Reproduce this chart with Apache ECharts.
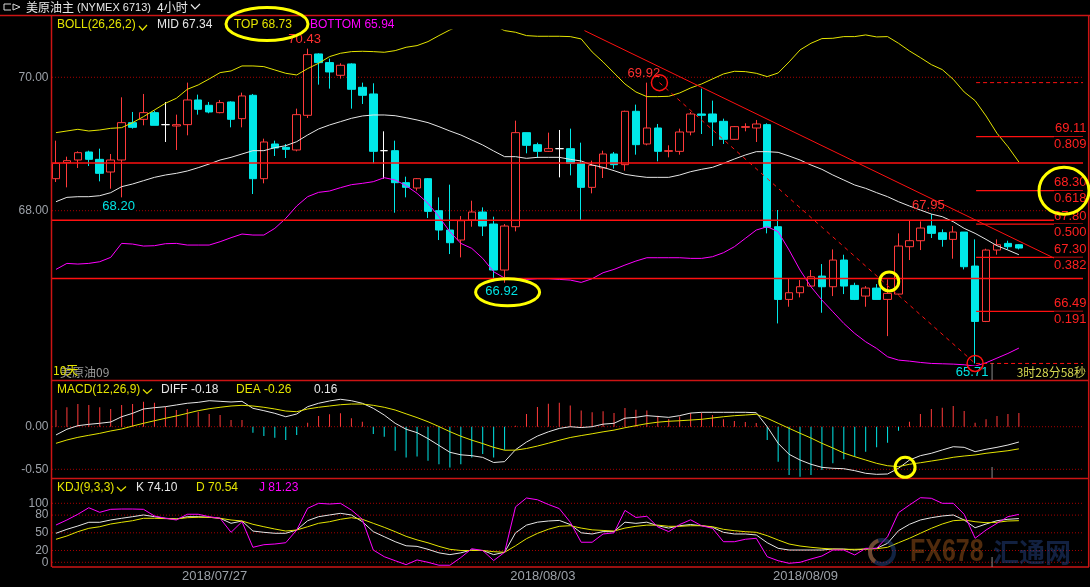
<!DOCTYPE html>
<html><head><meta charset="utf-8">
<script src="https://cdn.jsdelivr.net/npm/echarts@6/dist/echarts.min.js"></script>
<style>html,body{margin:0;padding:0;background:#000;}#c{width:1090px;height:587px;}</style>
</head><body><div id="c"></div>
<script>
// ---------------- DATA ----------------
const slotCount = 95; // 89 bars + empty room on the right
const categories = Array.from({length: slotCount}, (_, i) => 'bar' + i);
// [open, close, low, high]
const ohlc = [
[68.48,68.71,68.43,69.05],[68.72,68.75,68.35,68.81],[68.76,68.87,68.64,68.89],[68.88,68.77,68.67,68.90],
[68.77,68.56,68.44,68.93],[68.58,68.76,68.33,68.85],[68.76,69.32,68.20,69.70],[69.32,69.25,69.23,69.48],
[69.37,69.47,69.28,69.75],[69.47,69.28,69.28,69.50],[69.29,69.29,69.03,69.63],[69.27,69.29,68.91,69.44],
[69.29,69.66,69.13,69.92],[69.66,69.52,69.44,69.74],[69.58,69.48,69.46,69.63],[69.47,69.62,69.46,69.66],
[69.63,69.37,69.25,69.64],[69.38,69.72,69.25,69.77],[69.73,68.48,68.25,69.75],[68.48,69.03,68.41,69.08],
[69.00,68.94,68.82,69.05],[68.95,68.92,68.79,69.00],[68.91,69.44,68.89,69.53],[69.43,70.34,69.39,70.43],
[70.35,70.22,69.89,70.36],[70.22,70.08,69.83,70.28],[70.03,70.18,69.98,70.21],[70.20,69.82,69.53,70.21],
[69.85,69.73,69.60,69.92],[69.75,68.89,68.71,69.91],[68.90,68.90,68.48,69.19],[68.90,68.42,67.97,69.05],
[68.42,68.35,68.20,68.51],[68.34,68.48,68.30,68.49],[68.48,67.99,67.89,68.49],[68.00,67.71,67.56,68.20],
[67.71,67.52,67.35,68.39],[67.56,67.85,67.30,67.92],[67.86,67.98,67.76,68.15],[67.98,67.77,67.62,68.05],
[67.80,67.11,66.97,67.91],[67.11,67.77,66.92,67.80],[67.76,69.17,67.69,69.35],[69.17,68.98,68.86,69.17],
[68.99,68.89,68.79,69.02],[68.89,68.93,68.88,69.17],[68.93,68.93,68.50,69.21],[68.93,68.71,68.53,69.23],
[68.71,68.35,67.86,69.02],[68.35,68.68,68.26,68.75],[68.64,68.85,68.49,68.90],[68.85,68.69,68.63,68.88],
[68.69,69.49,68.60,69.50],[69.49,68.99,68.84,69.59],[69.00,69.24,68.98,69.92],[69.24,68.89,68.74,69.30],
[68.89,68.90,68.80,68.98],[68.89,69.18,68.84,69.23],[69.18,69.45,69.13,69.48],[69.45,69.43,69.15,69.83],
[69.45,69.33,68.97,69.65],[69.34,69.07,69.00,69.38],[69.07,69.26,69.06,69.27],[69.25,69.26,69.19,69.31],
[69.24,69.30,69.03,69.36],[69.29,67.75,67.66,69.31],[67.76,66.67,66.31,68.01],[66.67,66.77,66.56,66.99],
[66.77,66.86,66.70,66.96],[66.87,67.01,66.86,67.11],[67.02,66.86,66.47,67.20],[66.86,67.26,66.72,67.42],
[67.26,66.87,66.75,67.34],[66.88,66.67,66.66,66.92],[66.72,66.84,66.56,66.87],[66.84,66.67,66.67,66.90],
[66.67,66.76,66.12,66.97],[66.75,67.47,66.74,67.66],[67.46,67.55,67.26,67.86],[67.55,67.74,67.41,67.84],
[67.77,67.66,67.59,67.95],[67.67,67.57,67.46,67.72],[67.57,67.68,67.28,67.77],[67.68,67.16,67.12,67.68],
[67.17,66.34,65.71,67.57],[66.34,67.41,66.33,67.43],[67.41,67.49,67.34,67.57],[67.51,67.46,67.42,67.55],
[67.49,67.44,67.42,67.50]
];
const bollTop = [69.17,69.195,69.22,69.195,69.21,69.235,69.245,69.32,69.41,69.51,69.61,69.685,69.82,69.885,69.975,70.07,
70.095,70.17,70.17,70.16,70.11,70.06,70.035,70.13,70.21,70.31,70.36,70.385,70.39,70.385,70.375,70.40,
70.45,70.475,70.535,70.625,70.71,70.78,70.80,70.80,70.78,70.70,70.675,70.625,70.615,70.615,70.615,70.61,
70.575,70.38,70.23,70.065,69.90,69.78,69.71,69.71,69.715,69.765,69.84,69.90,69.975,70.05,70.09,70.085,
70.06,70.01,70.065,70.23,70.41,70.51,70.58,70.585,70.61,70.61,70.635,70.605,70.61,70.51,70.395,70.295,
70.19,70.115,69.97,69.78,69.65,69.42,69.16,68.96,68.73];
const bollMid = [68.135,68.20,68.21,68.21,68.225,68.27,68.36,68.40,68.45,68.50,68.535,68.56,68.595,68.645,68.70,68.76,
68.80,68.85,68.90,68.90,68.945,68.975,69.035,69.135,69.225,69.285,69.335,69.385,69.42,69.435,69.435,69.424,
69.394,69.36,69.32,69.26,69.195,69.135,69.06,68.985,68.895,68.81,68.81,68.785,68.80,68.80,68.80,68.77,
68.745,68.685,68.65,68.60,68.545,68.52,68.50,68.50,68.50,68.535,68.585,68.62,68.65,68.71,68.775,68.835,
68.885,68.885,68.875,68.82,68.76,68.685,68.62,68.535,68.46,68.385,68.335,68.27,68.21,68.135,68.07,68.01,
67.95,67.91,67.835,67.735,67.66,67.57,67.475,67.41,67.34];
const bollBottom = [67.12,67.21,67.20,67.21,67.235,67.30,67.51,67.50,67.47,67.475,67.505,67.51,67.485,67.485,67.485,67.535,
67.595,67.65,67.635,67.635,67.735,67.885,68.07,68.21,68.275,68.295,68.345,68.39,68.41,68.435,68.495,68.46,
68.375,68.26,68.11,67.91,67.685,67.51,67.435,67.285,67.085,66.99,66.98,66.97,66.98,66.98,66.97,66.96,
66.925,66.98,67.07,67.12,67.185,67.245,67.295,67.295,67.295,67.295,67.285,67.285,67.31,67.37,67.46,67.585,
67.71,67.76,67.685,67.41,67.11,66.86,66.66,66.485,66.31,66.16,66.035,65.935,65.81,65.76,65.745,65.725,
65.71,65.705,65.70,65.69,65.67,65.72,65.79,65.86,65.94];
const macdDiff = [-0.097,-0.03,0.012,0.028,0.04,0.055,0.117,0.157,0.208,0.223,0.235,0.255,0.275,0.286,0.305,0.298,
0.29,0.298,0.216,0.188,0.157,0.117,0.149,0.235,0.275,0.302,0.322,0.305,0.275,0.216,0.137,0.04,
-0.03,-0.07,-0.14,-0.22,-0.30,-0.33,-0.34,-0.36,-0.42,-0.41,-0.27,-0.18,-0.11,-0.06,-0.02,0.00,
-0.01,0.00,0.03,0.04,0.10,0.11,0.13,0.12,0.11,0.13,0.16,0.169,0.169,0.169,0.169,0.169,
0.164,0.0,-0.195,-0.324,-0.391,-0.441,-0.477,-0.488,-0.493,-0.516,-0.547,-0.559,-0.555,-0.488,-0.391,-0.340,
-0.312,-0.273,-0.235,-0.242,-0.293,-0.265,-0.242,-0.215,-0.18];
const macdDea = [-0.195,-0.156,-0.125,-0.101,-0.078,-0.05,-0.027,0.008,0.04,0.07,0.099,0.126,0.157,0.188,0.211,0.228,
0.243,0.251,0.243,0.228,0.208,0.184,0.176,0.208,0.228,0.243,0.258,0.266,0.266,0.251,0.228,0.196,
0.151,0.107,0.058,0.002,-0.058,-0.112,-0.158,-0.198,-0.242,-0.276,-0.275,-0.256,-0.227,-0.194,-0.159,-0.127,
-0.104,-0.083,-0.06,-0.04,-0.012,0.012,0.036,0.053,0.064,0.07,0.078,0.087,0.102,0.117,0.129,0.137,
0.146,0.099,0.04,-0.019,-0.077,-0.133,-0.195,-0.25,-0.309,-0.352,-0.391,-0.430,-0.458,-0.469,-0.441,-0.423,
-0.403,-0.383,-0.359,-0.344,-0.332,-0.312,-0.297,-0.282,-0.26];
const macdHist = [0.196,0.228,0.266,0.255,0.228,0.208,0.255,0.266,0.293,0.282,0.235,0.196,0.208,0.176,0.149,0.137,
0.079,0.079,-0.070,-0.109,-0.129,-0.156,-0.097,0.047,0.126,0.146,0.157,0.099,0.059,-0.086,-0.117,-0.282,
-0.36,-0.35,-0.40,-0.44,-0.48,-0.44,-0.36,-0.32,-0.36,-0.27,0.01,0.15,0.23,0.27,0.28,0.25,
0.19,0.17,0.18,0.16,0.22,0.20,0.19,0.13,0.09,0.12,0.16,0.164,0.137,0.087,0.067,0.055,
0.043,-0.156,-0.411,-0.567,-0.587,-0.567,-0.508,-0.43,-0.383,-0.352,-0.293,-0.242,-0.188,-0.047,0.059,0.149,
0.208,0.223,0.243,0.184,0.047,0.087,0.126,0.149,0.16];
const kdjK = [49.2,55.9,61.5,67.8,67.8,71.7,74.6,77.3,80.2,77.3,74.6,73.4,77.3,77.3,76.3,74.6,
66.1,70,53,50.8,49.2,49.2,54.7,70.5,77.3,80.2,83,80.2,68.8,51.9,43.4,34.9,
28,27,22,16,13,16,21,20,13,17,50,63,68,70,71,64,
50,48,52,52,68,66,68,62,58,62,64,62,59.3,50.8,48,48,
46.3,33.2,23.7,20.8,20.8,20.8,20.8,22.5,22.5,20.8,22.5,23.7,32.2,53.6,64.4,71.7,
75.6,78.5,80.2,71.7,58.6,64.9,70.5,72.9,74.10];
const kdjD = [39,44.6,51.9,57.6,60.3,64.9,67.8,70.5,74.6,74.6,74,73.4,75.6,76.3,76.3,74.6,
71.7,70,64.4,60.3,56.4,53,54.7,60.3,66.1,68.8,72.9,75.6,72.9,66.1,59.3,51.9,
44,38,33,27,22,20,20,20,18,17,28,40,49,56,61,62,
58,55,54,53,58,61,63,63,61,61,62,62,60.3,55.9,53.6,51.9,
50.8,45.1,37.8,31,27.6,25.4,23.7,22.5,22,22,22.5,23,25.4,33.2,40.7,49.2,
57.6,64.9,70.5,71.7,68.8,67.1,67.8,70,70.54];
const kdjJ = [63.2,71.7,81.4,92.5,84.7,89.8,90.3,90.3,89.8,78.5,74.6,71.7,81.4,81.4,77.3,74.6,
50.8,68.8,25.4,29.8,31,33.2,54.7,91.5,100,98.8,100,88.6,72.9,20.8,9.5,2.7,
-4,4,0,-5,-5,8,23,20,3,17,94,109,106,98,91,68,
34,34,48,50,88,76,78,60,52,64,72,62,57.6,34.9,34.9,39,
40.7,9.5,2.7,-1.7,0,5.6,10.7,20.8,20.8,12.4,23.7,23.7,43.4,84.1,97.1,109.5,
108.5,100,100,81.4,40.7,54.7,66.1,77.3,81.23];
const priceTicks = [70, 68];
const macdTicks = [0, -0.5];
const kdjTicks = [100, 80, 50, 20, 0];
const dateLabels = [{at: 14.5, text: '2018/07/27'}, {at: 44.5, text: '2018/08/03'}, {at: 68.5, text: '2018/08/09'}];
const userHLines = [68.715, 67.855, 66.985];
const trendLine = [[48.3, 70.70], [93.85, 67.08]];
const fibHigh = {at: 55.15, price: 69.92};
const fibLow = {at: 84.0, price: 65.71};
const fibPrices = [69.11, 68.30, 67.80, 67.30, 66.49];
const fibRatios = ['0.809', '0.618', '0.500', '0.382', '0.191'];
const highMarks = [{at: 23, price: 70.43}, {at: 54, price: 69.92}, {at: 80, price: 67.95}];
const lowMarks = [{at: 6, price: 68.20}, {at: 41, price: 66.92}, {at: 84, price: 65.71}];

// ---------------- STYLE / LAYOUT ----------------
const RED = '#ff3a3a', CYAN = '#00e8e8', YEL = '#e4e400', MAG = '#ff00ff', WHT = '#e6e6e6';
const LINE_RED = '#ff1010', DOT_RED = '#a80000', BORDER = '#cc1414', AXIS_TXT = '#9ca1a8';
const F12 = '12px "Liberation Sans", Arial, sans-serif';
const F13 = '13px "Liberation Sans", Arial, sans-serif';
const FCJK = '12px "Noto Sans CJK SC", sans-serif';
const XL = -0.364, XR = 93.86, FIBX0 = 84.09;
const grids = [
  {left: 50.5, width: 1045, top: 30, height: 350.5},
  {left: 50.5, width: 1045, top: 380.5, height: 97.8},
  {left: 50.5, width: 1045, top: 478.3, height: 88.7}
];
const yRanges = [[65.4543, 70.709], [-0.6056, 0.5423], [-7.97, 142.37]];

function seg(g, pts, color, width, type, z) {
  return {type: 'line', xAxisIndex: 3 + g, yAxisIndex: g, data: pts, symbol: 'none', silent: true,
    animation: false, z: z || 3, lineStyle: {color: color, width: width, type: type || 'solid'}};
}
function ln(g, data, color, z) {
  return {type: 'line', xAxisIndex: g, yAxisIndex: g, data: data, symbol: 'none', showSymbol: false,
    silent: true, animation: false, z: z || 4, lineStyle: {color: color, width: 1}};
}

const series = [];
priceTicks.forEach(t => series.push(seg(0, [[XL, t], [XR, t]], DOT_RED, 1, [1, 2], 1)));
macdTicks.forEach(t => series.push(seg(1, [[XL, t], [XR, t]], DOT_RED, 1, [1, 2], 1)));
kdjTicks.forEach(t => series.push(seg(2, [[XL, t], [XR, t]], DOT_RED, 1, [1, 2], 1)));

series.push({
  type: 'candlestick', xAxisIndex: 0, yAxisIndex: 0, data: ohlc, barWidth: 8, animation: false, silent: true, z: 2,
  itemStyle: {color: '#000', color0: CYAN, borderColor: RED, borderColor0: CYAN, borderColorDoji: '#ffffff', borderWidth: 1}
});
series.push(ln(0, bollTop, YEL));
series.push(ln(0, bollMid, WHT));
series.push(ln(0, bollBottom, MAG));

series.push({type: 'bar', xAxisIndex: 1, yAxisIndex: 1, data: macdHist, barWidth: 1, animation: false, silent: true, z: 2,
  itemStyle: {color: p => p.value >= 0 ? RED : CYAN}});
series.push(ln(1, macdDiff, WHT));
series.push(ln(1, macdDea, YEL));
series.push(ln(2, kdjK, WHT));
series.push(ln(2, kdjD, YEL));
series.push(ln(2, kdjJ, MAG));

userHLines.forEach(v => series.push(seg(0, [[XL, v], [XR, v]], LINE_RED, 1.5, 'solid', 5)));
series.push(seg(0, trendLine, LINE_RED, 1, 'solid', 5));
series.push(seg(0, [[fibHigh.at, fibHigh.price], [fibLow.at, fibLow.price]], LINE_RED, 1, [4, 4], 5));
series.push(seg(0, [[FIBX0, fibHigh.price], [XR, fibHigh.price]], LINE_RED, 1, [4, 3], 5));
series.push(seg(0, [[FIBX0, fibLow.price], [XR, fibLow.price]], LINE_RED, 1, [4, 3], 5));
fibPrices.forEach(v => series.push(seg(0, [[FIBX0, v], [XR, v]], LINE_RED, 1.2, 'solid', 5)));
const lastClose = ohlc[ohlc.length - 1][1];
series.push(seg(0, [[92.0, lastClose], [XR, lastClose]], YEL, 1, 'solid', 6));

const option = {
  backgroundColor: '#000',
  animation: false,
  grid: grids,
  xAxis: [0, 1, 2].map(g => ({type: 'category', gridIndex: g, data: categories, boundaryGap: true, show: false}))
    .concat([0, 1, 2].map(g => ({type: 'value', gridIndex: g, min: -0.5, max: slotCount - 0.5, show: false}))),
  yAxis: yRanges.map((r, g) => ({type: 'value', gridIndex: g, min: r[0], max: r[1], show: false})),
  series: series
};

const chart = echarts.init(document.getElementById('c'));
chart.setOption(option);

function P(g, x, y) { return chart.convertToPixel({xAxisIndex: 3 + g, yAxisIndex: g}, [x, y]); }
function txt(x, y, s, color, font, align, extra) {
  return {type: 'text', x: x, y: y, z: 100, silent: true,
    style: Object.assign({text: s, fill: color, font: font || F12, align: align || 'left', textAlign: align || 'left',
      verticalAlign: 'middle', textVerticalAlign: 'middle'}, extra || {})};
}
function line(x1, y1, x2, y2, color, w, z) {
  return {type: 'line', z: z || 90, silent: true, shape: {x1: x1, y1: y1, x2: x2, y2: y2}, style: {stroke: color, lineWidth: w || 1}};
}
function poly(pts, color, w) {
  return {type: 'polyline', z: 100, silent: true, shape: {points: pts}, style: {stroke: color, fill: 'none', lineWidth: w || 1}};
}
function ell(cx, cy, rx, ry, color, w) {
  return {type: 'ellipse', z: 101, silent: true, shape: {cx: cx, cy: cy, rx: rx, ry: ry}, style: {stroke: color, fill: 'none', lineWidth: w || 3}};
}
const f2 = v => v.toFixed(2);
const g = [];
// borders
g.push(line(0, 15.5, 1090, 15.5, BORDER, 1.5));
g.push(line(52, 380.5, 1089, 380.5, BORDER, 1.5));
g.push(line(52, 478.5, 1089, 478.5, BORDER, 1.5));
g.push(line(52, 567, 1089, 567, BORDER, 1.5));
g.push(line(51.5, 15.5, 51.5, 567, BORDER, 1.5));
g.push(line(1088.7, 15.5, 1088.7, 567, BORDER, 1.5));
// title bar
g.push(poly([[11, 4], [4, 4], [4, 10], [11, 10]], '#d8d8d8', 1));
g.push(poly([[13, 4], [20, 7], [13, 10], [13, 4]], '#d8d8d8', 1));
g.push(txt(26, 7.5, '美原油主', '#e8e8e8', FCJK));
g.push(txt(77, 7.5, '(NYMEX 6713)', '#e8e8e8', '11px "Liberation Sans", Arial, sans-serif'));
g.push(txt(157, 7.5, '4小时', '#e8e8e8', FCJK));
g.push(poly([[191, 4.5], [195, 9], [200, 4]], '#e8e8e8', 1.2));
// legends
const n = ohlc.length - 1;
g.push(txt(57, 25, 'BOLL(26,26,2)', YEL, F12));
g.push(poly([[139, 26], [142.5, 30], [147, 25]], YEL, 1.2));
g.push(txt(157, 25, 'MID ' + f2(bollMid[n]), WHT, F12));
g.push(txt(234, 25, 'TOP ' + f2(bollTop[n]), YEL, F12));
g.push(txt(310, 25, 'BOTTOM ' + f2(bollBottom[n]), MAG, F12));
g.push(ell(267, 24, 41, 16.5, '#ffff00', 3));
g.push(txt(57, 389.5, 'MACD(12,26,9)', YEL, F12));
g.push(poly([[143, 389.5], [147, 393.5], [152, 389]], YEL, 1.2));
g.push(txt(161, 389.5, 'DIFF ' + f2(macdDiff[n]), WHT, F12));
g.push(txt(236, 389.5, 'DEA ' + f2(macdDea[n]), YEL, F12));
g.push(txt(314, 389.5, f2(macdHist[n]), WHT, F12));
g.push(txt(57, 488, 'KDJ(9,3,3)', YEL, F12));
g.push(poly([[117, 487], [121, 491], [126, 486.5]], YEL, 1.2));
g.push(txt(136, 488, 'K ' + f2(kdjK[n]), WHT, F12));
g.push(txt(196, 488, 'D ' + f2(kdjD[n]), YEL, F12));
g.push(txt(259, 488, 'J ' + f2(kdjJ[n]), MAG, F12));
// axis tick labels
priceTicks.forEach(t => g.push(txt(48.5, P(0, 0, t)[1], f2(t), AXIS_TXT, F12, 'right')));
macdTicks.forEach(t => g.push(txt(48.5, P(1, 0, t)[1], f2(t), AXIS_TXT, F12, 'right')));
kdjTicks.forEach(t => g.push(txt(48.5, P(2, 0, t)[1], String(t), AXIS_TXT, F12, 'right')));
dateLabels.forEach(d => g.push(txt(P(2, d.at, 0)[0], 576.5, d.text, AXIS_TXT, F13, 'center')));
// high/low marks
highMarks.forEach(m => { const p = P(0, m.at, m.price); g.push(txt(p[0] - 3, p[1] - 9, f2(m.price), '#ff3030', F13, 'center')); });
lowMarks.forEach(m => { const p = P(0, m.at, m.price); g.push(txt(p[0] - 3, p[1] + 9, f2(m.price), '#00e4e4', F13, 'center', {backgroundColor: '#000', padding: [0, 1, 0, 1]})); });
{ const p = P(0, lowMarks[1].at, lowMarks[1].price); g.push(ell(p[0] + 3, p[1] + 9.5, 32, 13.5, '#ffff00', 3)); }
// fib labels
const fibRight = 1086.5;
fibPrices.forEach((v, i) => {
  const y = P(0, 0, v)[1];
  g.push(txt(fibRight, y - 8, f2(v), '#ff2020', F13, 'right', {backgroundColor: '#000'}));
  g.push(txt(fibRight, y + 8, fibRatios[i], '#ff2020', F13, 'right', {backgroundColor: '#000', padding: [0, 0, 3, 0]}));
});
{ const y = P(0, 0, fibPrices[1])[1]; g.push(ell(1064, y, 25, 23.5, '#ffff00', 3)); }
// fib end circles
{ const a = P(0, fibHigh.at, fibHigh.price), b = P(0, fibLow.at, fibLow.price);
  g.push(ell(a[0], a[1], 8, 8, LINE_RED, 1.5)); g.push(ell(b[0], b[1], 8, 8, LINE_RED, 1.5)); }
// other markers
{ const p = P(0, 76.15, 66.94); g.push(ell(p[0], p[1], 9.5, 9.5, '#ffff00', 3)); }
{ const p = P(1, 77.6, -0.477); g.push(ell(p[0], p[1], 10, 10, '#ffff00', 3)); }
{ const x = P(0, 85.55, 0)[0];
  g.push(line(x, 363, x, 380, '#8a8a8a', 1, 95)); g.push(line(x, 467, x, 478, '#8a8a8a', 1, 95)); g.push(line(x, 557, x, 567, '#8a8a8a', 1, 95)); }
g.push(txt(1086, 372, '3时28分58秒', '#d6d650', FCJK, 'right', {backgroundColor: '#000'}));
g.push(txt(60, 372.5, '美原油09', '#9a9a9a', FCJK));
g.push(txt(53, 370, '10天', YEL, FCJK));
// watermark
g.push({type: 'circle', z: 80, silent: true, shape: {cx: 882, cy: 552, r: 12}, style: {stroke: 'rgba(40,80,150,0.45)', fill: 'none', lineWidth: 4}});
g.push({type: 'arc', z: 81, silent: true, shape: {cx: 882, cy: 552, r: 12, startAngle: 2.2, endAngle: 4.4}, style: {stroke: 'rgba(200,110,30,0.5)', fill: 'none', lineWidth: 4}});
{ const wm = txt(910, 552, 'FX678', 'rgba(160,85,25,0.5)', 'bold 32px "Liberation Sans", Arial, sans-serif');
  wm.scaleX = 0.78; g.push(wm); }
g.push(txt(993, 552, '汇通网', 'rgba(35,65,130,0.5)', 'bold 26px "Noto Sans CJK SC", sans-serif'));

chart.setOption({graphic: {elements: g}});
</script>
</body></html>
